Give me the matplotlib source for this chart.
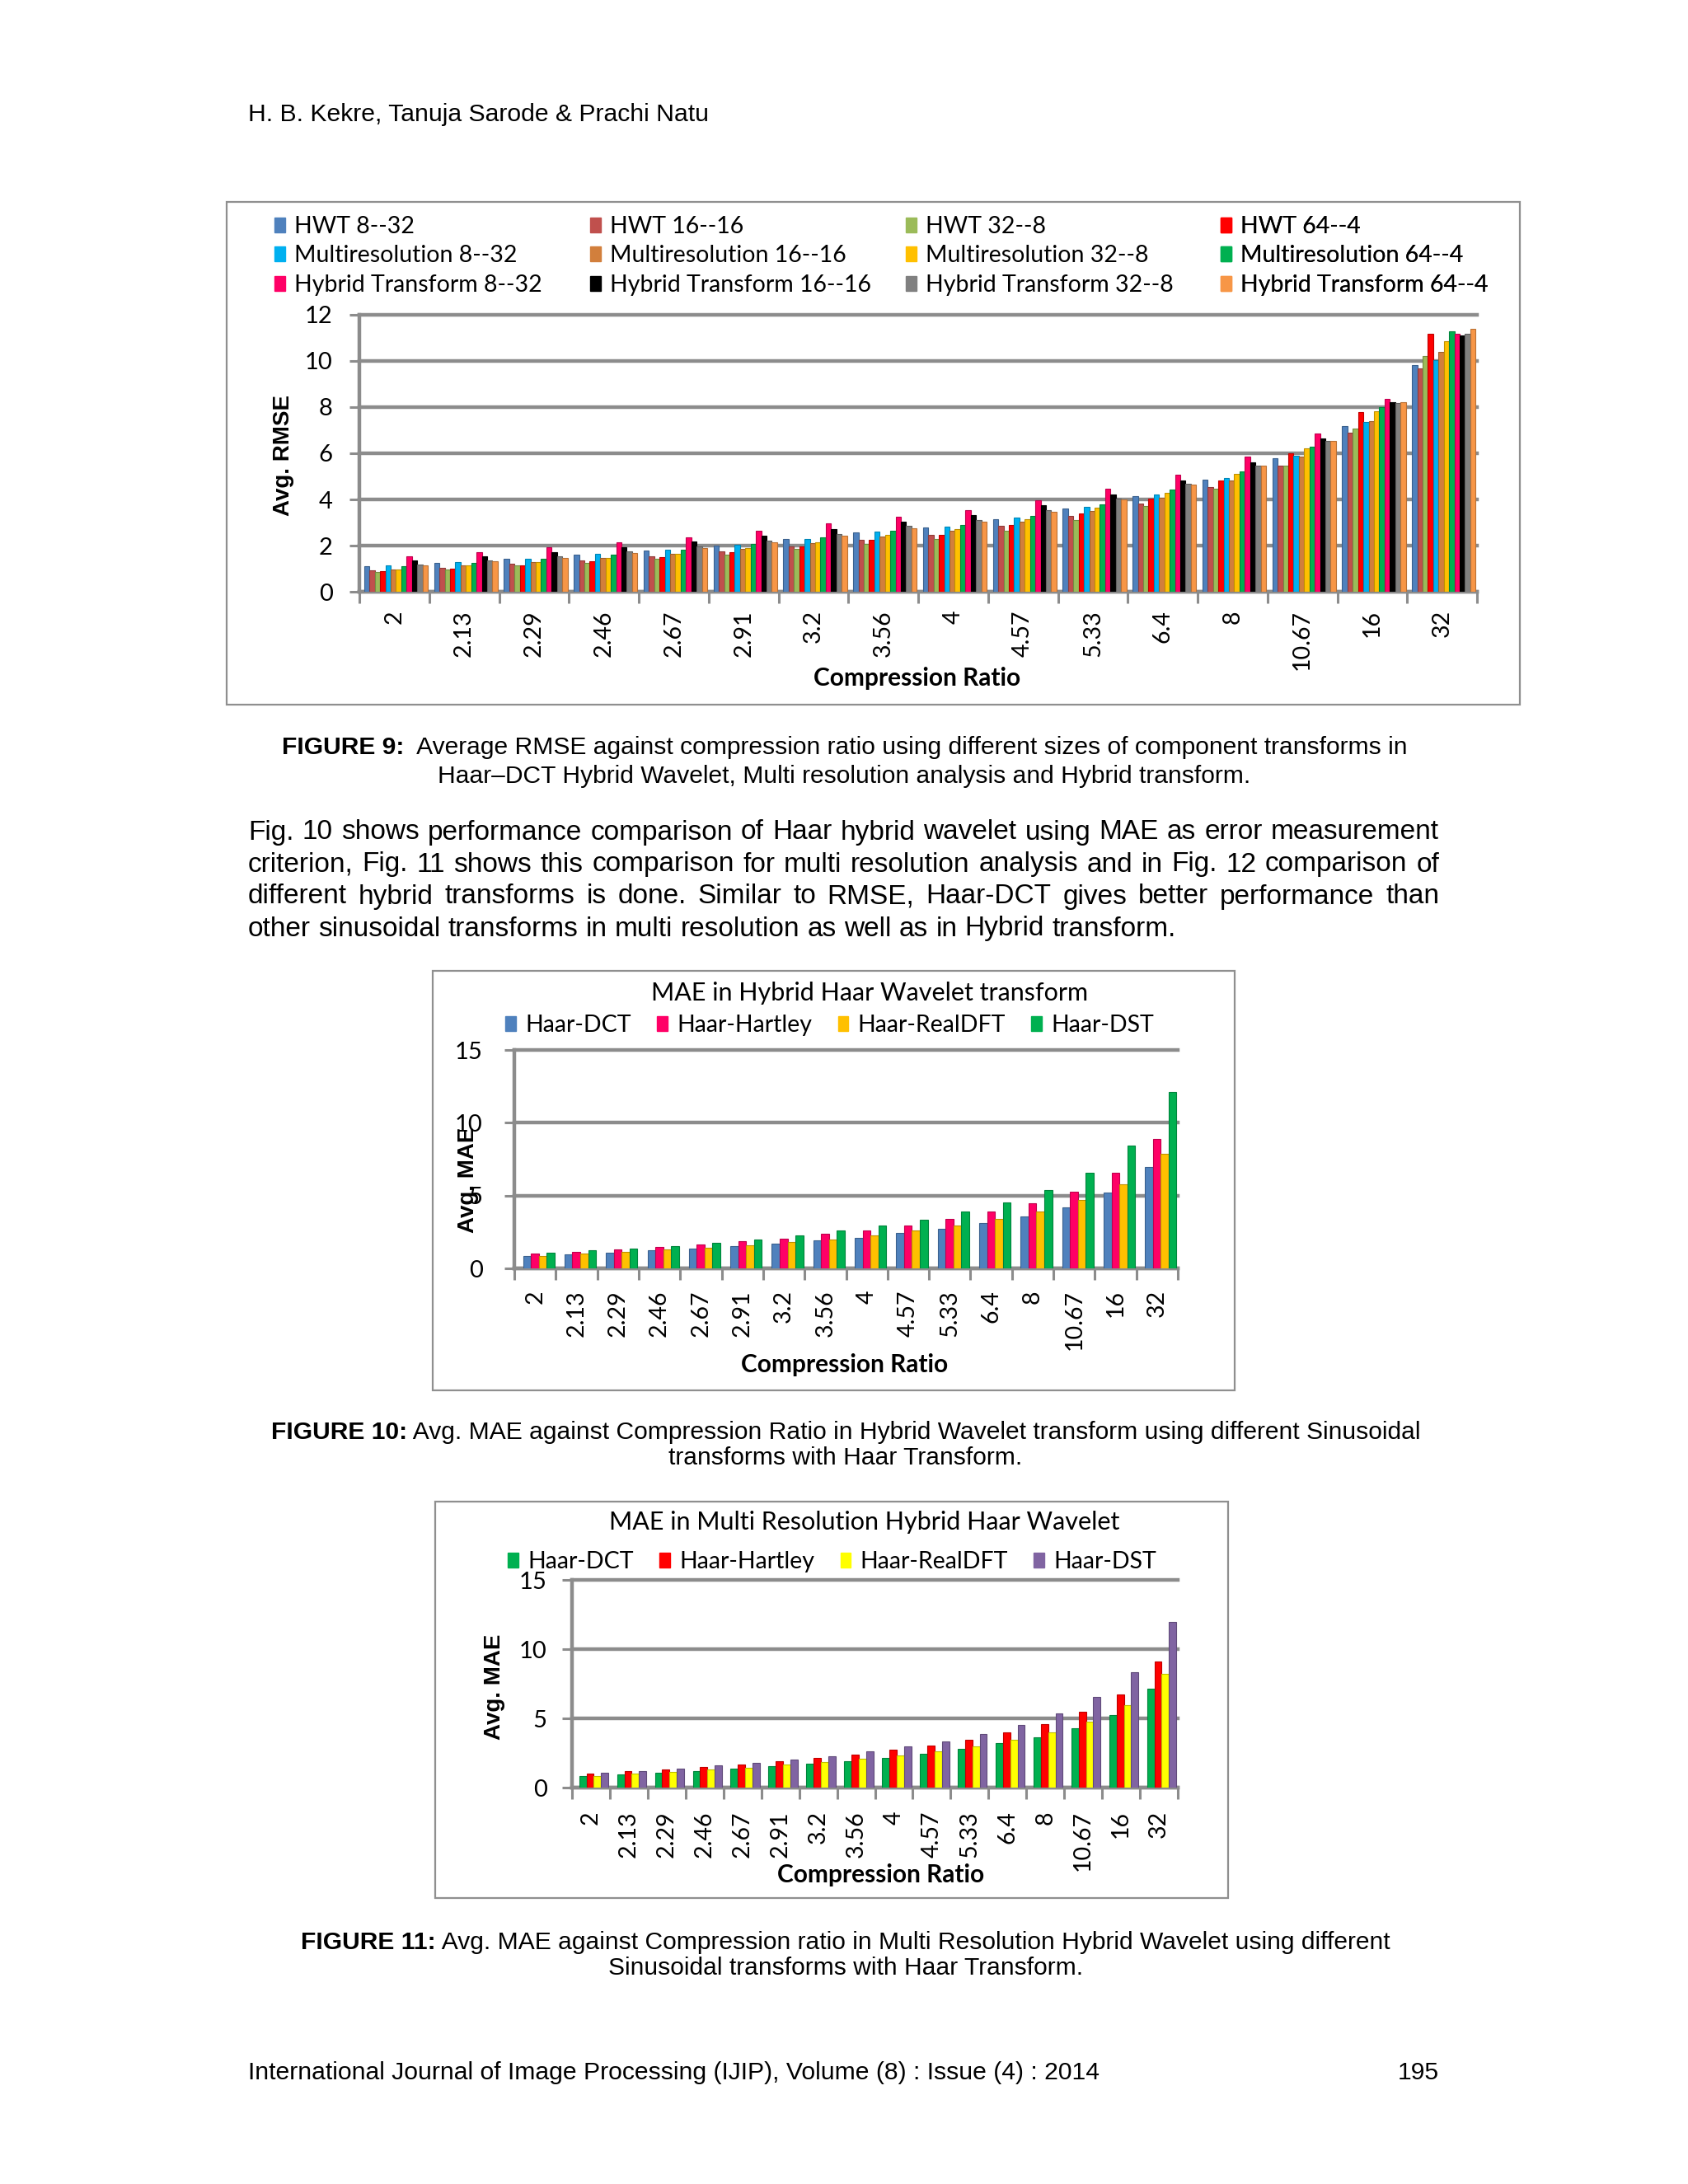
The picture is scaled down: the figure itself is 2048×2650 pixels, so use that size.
import matplotlib
matplotlib.use("Agg")
import matplotlib.pyplot as plt
import matplotlib.colors as mcolors
from matplotlib.patches import Rectangle, Patch
import numpy as np

W, H = 2048, 2650
PAGE_FONT = "Liberation Sans"
CHART_FONT = "Lato"

# ---- data ----
ratios = ["2", "2.13", "2.29", "2.46", "2.67", "2.91", "3.2", "3.56",
          "4", "4.57", "5.33", "6.4", "8", "10.67", "16", "32"]

# Figure 9: avg RMSE
hwt_8_32 = [1.11, 1.25, 1.42, 1.60, 1.79, 2.01, 2.27, 2.56, 2.77, 3.14, 3.60, 4.15, 4.86, 5.79, 7.18, 9.83]
hwt_16_16 = [0.93, 1.05, 1.21, 1.37, 1.55, 1.76, 1.98, 2.25, 2.47, 2.84, 3.29, 3.83, 4.53, 5.48, 6.91, 9.69]
hwt_32_8 = [0.87, 0.97, 1.13, 1.26, 1.44, 1.61, 1.84, 2.08, 2.28, 2.66, 3.12, 3.71, 4.47, 5.48, 7.06, 10.20]
hwt_64_4 = [0.88, 1.00, 1.16, 1.32, 1.50, 1.71, 1.96, 2.25, 2.48, 2.90, 3.39, 4.02, 4.83, 6.00, 7.78, 11.19]
mr_8_32 = [1.13, 1.27, 1.44, 1.64, 1.83, 2.05, 2.30, 2.59, 2.82, 3.21, 3.67, 4.23, 4.94, 5.89, 7.34, 10.04]
mr_16_16 = [0.97, 1.13, 1.27, 1.45, 1.64, 1.87, 2.12, 2.40, 2.63, 3.02, 3.50, 4.08, 4.82, 5.84, 7.40, 10.40]
mr_32_8 = [0.98, 1.13, 1.27, 1.47, 1.66, 1.90, 2.16, 2.47, 2.72, 3.14, 3.65, 4.29, 5.11, 6.20, 7.83, 10.85]
mr_64_4 = [1.11, 1.25, 1.43, 1.61, 1.83, 2.07, 2.34, 2.64, 2.88, 3.30, 3.80, 4.42, 5.22, 6.30, 8.01, 11.30]
ht_8_32 = [1.54, 1.71, 1.92, 2.13, 2.36, 2.64, 2.95, 3.26, 3.53, 3.96, 4.47, 5.08, 5.86, 6.87, 8.37, 11.18]
ht_16_16 = [1.37, 1.55, 1.73, 1.94, 2.17, 2.44, 2.72, 3.04, 3.31, 3.74, 4.23, 4.83, 5.62, 6.65, 8.20, 11.12]
ht_32_8 = [1.19, 1.36, 1.55, 1.75, 1.96, 2.22, 2.51, 2.85, 3.12, 3.55, 4.05, 4.68, 5.48, 6.55, 8.17, 11.18]
ht_64_4 = [1.13, 1.31, 1.48, 1.68, 1.90, 2.15, 2.44, 2.76, 3.03, 3.48, 3.99, 4.63, 5.46, 6.55, 8.21, 11.39]

rmse_series = [hwt_8_32, hwt_16_16, hwt_32_8, hwt_64_4,
               mr_8_32, mr_16_16, mr_32_8, mr_64_4,
               ht_8_32, ht_16_16, ht_32_8, ht_64_4]
rmse_names = ["HWT 8--32", "HWT 16--16", "HWT 32--8", "HWT 64--4",
              "Multiresolution 8--32", "Multiresolution 16--16", "Multiresolution 32--8", "Multiresolution 64--4",
              "Hybrid Transform 8--32", "Hybrid Transform 16--16", "Hybrid Transform 32--8", "Hybrid Transform 64--4"]
rmse_colors = ["#4F81BD", "#C0504D", "#9BBB59", "#FF0000",
               "#00B0F0", "#D27F3C", "#FFC000", "#00B050",
               "#FF0066", "#000000", "#808080", "#F79646"]

# Figure 10: MAE, hybrid Haar wavelet
sin_names = ["Haar-DCT", "Haar-Hartley", "Haar-RealDFT", "Haar-DST"]
hw_dct = [0.83, 0.97, 1.09, 1.22, 1.38, 1.51, 1.69, 1.90, 2.11, 2.41, 2.73, 3.10, 3.59, 4.21, 5.18, 6.96]
hw_hartley = [1.03, 1.16, 1.32, 1.47, 1.65, 1.84, 2.05, 2.35, 2.62, 2.97, 3.39, 3.88, 4.48, 5.29, 6.55, 8.86]
hw_realdft = [0.87, 1.01, 1.14, 1.30, 1.43, 1.59, 1.80, 1.99, 2.27, 2.58, 2.95, 3.39, 3.90, 4.67, 5.78, 7.89]
hw_dst = [1.09, 1.22, 1.38, 1.55, 1.76, 2.00, 2.25, 2.58, 2.93, 3.35, 3.88, 4.52, 5.37, 6.55, 8.43, 12.13]
hw_colors = ["#4F81BD", "#FF0066", "#FFC000", "#00B050"]

# Figure 11: MAE, multi resolution hybrid Haar wavelet
mr_dct = [0.82, 0.96, 1.10, 1.22, 1.37, 1.55, 1.73, 1.93, 2.17, 2.45, 2.77, 3.19, 3.65, 4.30, 5.24, 7.13]
mr_hartley = [1.02, 1.18, 1.31, 1.51, 1.67, 1.89, 2.13, 2.39, 2.71, 3.03, 3.47, 3.96, 4.58, 5.48, 6.73, 9.08]
mr_realdft = [0.86, 1.02, 1.16, 1.29, 1.45, 1.65, 1.85, 2.07, 2.33, 2.63, 2.99, 3.45, 4.00, 4.78, 5.94, 8.19]
mr_dst = [1.06, 1.22, 1.39, 1.59, 1.79, 2.01, 2.29, 2.61, 2.95, 3.35, 3.86, 4.50, 5.38, 6.53, 8.35, 11.99]
mrh_colors = ["#00B050", "#FF0000", "#FFFF00", "#8064A2"]

fig = plt.figure(figsize=(W / 100, H / 100), dpi=100)
fig.patch.set_facecolor("white")
renderer = fig.canvas.get_renderer()
PX = 0.72  # points per pixel at dpi 100


def fx(x):
    return x / W


def fy(y):
    return 1 - y / H


def frame(x0, y0, x1, y1):
    fig.add_artist(Rectangle((fx(x0), fy(y1)), (x1 - x0) / W, (y1 - y0) / H,
                             transform=fig.transFigure, fill=False, ec="#8f8f8f", lw=1.6))


def darker(c, k=0.75):
    r, g, b = mcolors.to_rgb(c)
    return (r * k, g * k, b * k)


def bar_chart(box, series, colors, ymax, ystep, fill, shift, tick_pad, lab_pad):
    x0, y0, x1, y1 = box
    ax = fig.add_axes([fx(x0), fy(y1), (x1 - x0) / W, (y1 - y0) / H])
    x = np.arange(len(ratios))
    n = len(series)
    w = fill / n
    for i, (vals, c) in enumerate(zip(series, colors)):
        ax.bar(x - fill / 2 + w * (i + 0.5) + shift, vals, w, color=c,
               ec=darker(c), lw=0.8, zorder=3)
    ax.set_xlim(-0.5, len(ratios) - 0.5)
    ax.set_ylim(0, ymax)
    ax.set_yticks(np.arange(0, ymax + 0.01, ystep))
    ax.set_xticks(x)
    ax.set_xticklabels(ratios, rotation=90, fontsize=20.5, family=CHART_FONT)
    ax.set_xticks(np.arange(-0.5, len(ratios)), minor=True)
    ax.tick_params(axis="x", which="major", length=0, pad=lab_pad * PX)
    ax.tick_params(axis="x", which="minor", length=10, width=2.2, color="#8c8c8c", direction="out")
    ax.tick_params(axis="y", length=9, width=2.2, color="#8c8c8c", pad=tick_pad * PX,
                   labelsize=21)
    for t in ax.get_yticklabels():
        t.set_family(CHART_FONT)
    ax.yaxis.grid(True, color="#8c8c8c", lw=3.2, zorder=1)
    for gl in ax.get_ygridlines():
        gl.set_clip_on(False)
    for s in ["top", "right"]:
        ax.spines[s].set_visible(False)
    for s in ["left", "bottom"]:
        ax.spines[s].set_color("#8c8c8c")
        ax.spines[s].set_linewidth(3.2)
    ax.set_facecolor("none")
    return ax


# ---- page text ----
fig.text(fx(301), fy(139), "H. B. Kekre, Tanuja Sarode & Prachi Natu",
         fontsize=21.7, family=PAGE_FONT, va="center")


def mixed_line(parts, xc, y, size):
    texts = []
    for s, bold in parts:
        t = fig.text(0, fy(y), s, fontsize=size, family=PAGE_FONT,
                     weight="bold" if bold else "normal", va="center")
        texts.append(t)
    widths = [t.get_window_extent(renderer).width for t in texts]
    x = xc - sum(widths) / 2
    for t, wd in zip(texts, widths):
        t.set_x(fx(x))
        x += wd


def justified(lines, x0, x1, ys, size):
    for k, (line, y) in enumerate(zip(lines, ys)):
        words = line.split()
        texts = [fig.text(0, fy(y), wd, fontsize=size, family=PAGE_FONT, va="center") for wd in words]
        widths = [t.get_window_extent(renderer).width for t in texts]
        if k == len(lines) - 1:
            gap = size / PX * 0.278
        else:
            gap = (x1 - x0 - sum(widths)) / (len(words) - 1)
        x = x0
        for t, wd in zip(texts, widths):
            t.set_x(fx(x))
            x += wd + gap


CAP = 21.6
mixed_line([("FIGURE 9:", True),
            ("  Average RMSE against compression ratio using different sizes of component transforms in", False)],
           1025, 907, CAP)
mixed_line([("Haar\u2013DCT Hybrid Wavelet, Multi resolution analysis and Hybrid transform.", False)], 1024, 942, CAP)

paragraph = ["Fig. 10 shows performance comparison of Haar hybrid wavelet using MAE as error measurement",
             "criterion, Fig. 11 shows this comparison for multi resolution analysis and in Fig. 12 comparison of",
             "different hybrid transforms is done.  Similar to RMSE, Haar-DCT gives better performance than",
             "other sinusoidal transforms in multi resolution as well as in Hybrid transform."]
justified(paragraph, 301, 1746, [1010, 1049, 1088, 1127], 24)

mixed_line([("FIGURE 10:", True),
            (" Avg. MAE against Compression Ratio in Hybrid Wavelet transform using different Sinusoidal", False)],
           1026, 1738, CAP)
mixed_line([("transforms with Haar Transform.", False)], 1026, 1769, CAP)
mixed_line([("FIGURE 11:", True),
            (" Avg. MAE against Compression ratio in Multi Resolution Hybrid Wavelet using different", False)],
           1026, 2357, CAP)
mixed_line([("Sinusoidal transforms with Haar Transform.", False)], 1026, 2388, CAP)

fig.text(fx(301), fy(2515), "International Journal of Image Processing (IJIP), Volume (8) : Issue (4) : 2014",
         fontsize=21.7, family=PAGE_FONT, va="center")
fig.text(fx(1746), fy(2515), "195", fontsize=21.7, family=PAGE_FONT, va="center", ha="right")

LEG = dict(frameon=False, prop={"family": CHART_FONT, "size": 20.5}, handlelength=0.45,
           handleheight=0.6, handletextpad=0.4, borderpad=0, borderaxespad=0)

# ---- Figure 9 ----
frame(275, 245, 1844, 855)
ax1 = bar_chart((436, 382, 1792, 718), rmse_series, rmse_colors, 12, 2, 0.91, 0.025, 20, 22)
ax1.set_ylabel("Avg. RMSE", fontsize=20, family=PAGE_FONT, weight="bold")
ax1.yaxis.set_label_coords(fx(357), fy(553), transform=fig.transFigure)
ax1.set_xlabel("Compression Ratio", fontsize=21.5, family=CHART_FONT, weight="bold", va="center")
ax1.xaxis.set_label_coords(fx(1113), fy(823), transform=fig.transFigure)
col_x = [333, 716, 1099, 1481]
for k in range(4):
    hs = [Patch(color=rmse_colors[f * 4 + k]) for f in range(3)]
    ls = [rmse_names[f * 4 + k] for f in range(3)]
    leg = ax1.legend(hs, ls, loc="upper left", bbox_to_anchor=(fx(col_x[k]), fy(262)),
                     bbox_transform=fig.transFigure, labelspacing=0.33, **LEG)
    ax1.add_artist(leg)

# ---- Figure 10 ----
frame(525, 1178, 1498, 1687)
ax2 = bar_chart((624, 1274, 1429, 1539), [hw_dct, hw_hartley, hw_realdft, hw_dst], hw_colors,
                15, 5, 0.76, 0.09, 26, 26)
ax2.set_ylabel("Avg. MAE", fontsize=20, family=PAGE_FONT, weight="bold")
ax2.yaxis.set_label_coords(fx(581), fy(1432), transform=fig.transFigure)
ax2.set_xlabel("Compression Ratio", fontsize=21.5, family=CHART_FONT, weight="bold", va="center")
ax2.xaxis.set_label_coords(fx(1025), fy(1656), transform=fig.transFigure)
fig.text(fx(1055), fy(1205), "MAE in Hybrid Haar Wavelet transform", fontsize=22,
         family=CHART_FONT, ha="center", va="center")
ax2.legend([Patch(color=c) for c in hw_colors], sin_names, ncol=4, loc="center left",
           bbox_to_anchor=(fx(613), fy(1244)), bbox_transform=fig.transFigure,
           columnspacing=1.1, **LEG)

# ---- Figure 11 ----
frame(528, 1822, 1490, 2303)
ax3 = bar_chart((694, 1917, 1429, 2169), [mr_dct, mr_hartley, mr_realdft, mr_dst], mrh_colors,
                15, 5, 0.77, 0.075, 18, 28)
ax3.set_ylabel("Avg. MAE", fontsize=20, family=PAGE_FONT, weight="bold")
ax3.yaxis.set_label_coords(fx(613), fy(2047), transform=fig.transFigure)
ax3.set_xlabel("Compression Ratio", fontsize=21.5, family=CHART_FONT, weight="bold", va="center")
ax3.xaxis.set_label_coords(fx(1069), fy(2275), transform=fig.transFigure)
fig.text(fx(1049), fy(1847), "MAE in Multi Resolution Hybrid Haar Wavelet", fontsize=22,
         family=CHART_FONT, ha="center", va="center")
ax3.legend([Patch(color=c) for c in mrh_colors], sin_names, ncol=4, loc="center left",
           bbox_to_anchor=(fx(616), fy(1895)), bbox_transform=fig.transFigure,
           columnspacing=1.1, **LEG)

fig.savefig("out.png", dpi=100, facecolor="white")
